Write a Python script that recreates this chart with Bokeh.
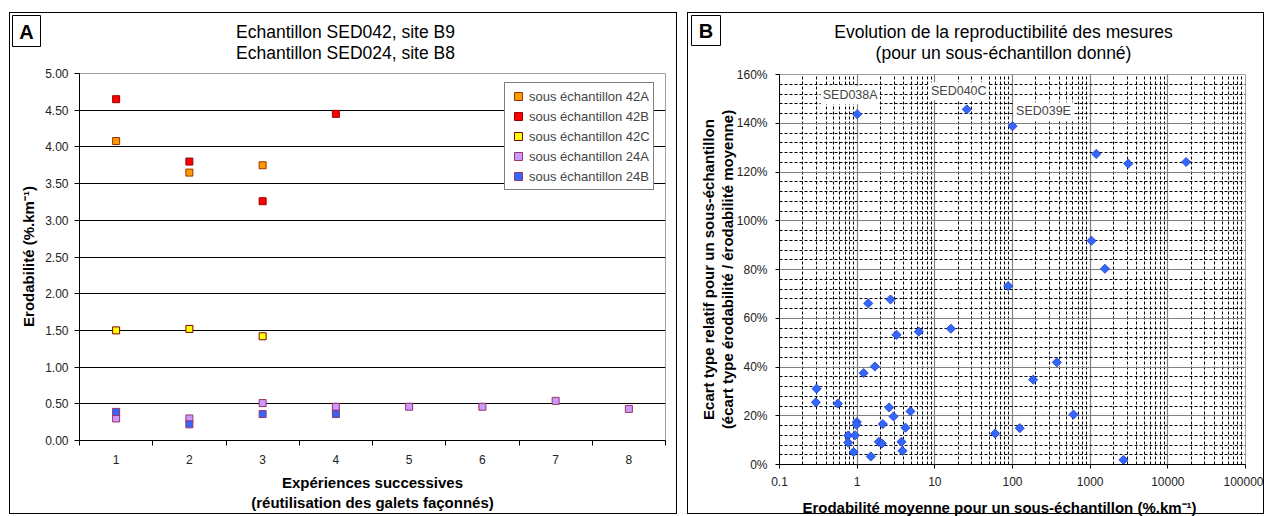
import math
from bokeh.plotting import figure
from bokeh.models import (Range1d, FixedTicker, Label, Legend, LegendItem,
                          NumeralTickFormatter, ColumnDataSource)
from bokeh.embed import file_html
from bokeh.resources import INLINE

FONT = "Liberation Sans"

# ---------------- Panel A data ----------------
experiences = [1, 2, 3, 4, 5, 6, 7, 8]
exp_labels = ["1", "2", "3", "4", "5", "6", "7", "8"]
series_names = ["sous échantillon 42A", "sous échantillon 42B", "sous échantillon 42C",
                "sous échantillon 24A", "sous échantillon 24B"]
sub_42A = [4.08, 3.65, 3.75]
sub_42B = [4.65, 3.80, 3.26, 4.45]
sub_42C = [1.50, 1.52, 1.42]
sub_24A = [0.30, 0.30, 0.51, 0.46, 0.46, 0.46, 0.54, 0.43]
sub_24B = [0.39, 0.22, 0.36, 0.36]
yticks_A = [0.0, 0.5, 1.0, 1.5, 2.0, 2.5, 3.0, 3.5, 4.0, 4.5, 5.0]

# ---------------- Panel B data ----------------
erod_moy = [1.0, 25.8, 100, 1197, 3090, 17200, 1040, 1549, 88, 372, 184.6, 610, 124, 59.8,
            2685, 1.39, 2.69, 3.21, 6.22, 16.1, 1.69, 1.21, 0.30, 0.294, 0.563, 2.58, 2.94,
            4.86, 0.99, 0.98, 2.14, 4.19, 0.766, 0.94, 0.766, 1.90, 2.08, 3.72, 3.83, 0.90, 1.50]
ecart_rel = [143.7, 145.7, 138.8, 127.4, 123.4, 124.1, 91.8, 80.3, 73.2, 41.9, 34.8, 20.5,
             14.9, 12.7, 1.9, 66.1, 67.7, 53.2, 54.5, 55.7, 40.2, 37.5, 31.1, 25.5, 25.0,
             23.4, 19.7, 21.8, 17.4, 16.3, 16.6, 15.1, 11.9, 12.0, 9.0, 9.3, 8.6, 9.3, 5.6,
             5.1, 3.3]
named_points = ["SED038A", "SED040C", "SED039E"]
named_index = [0, 1, 2]
xticks_B = [0.1, 1, 10, 100, 1000, 10000, 100000]
xtick_labels_B = ["0.1", "1", "10", "100", "1000", "10000", "100000"]
yticks_B = [0.0, 0.2, 0.4, 0.6, 0.8, 1.0, 1.2, 1.4, 1.6]

# ---------------- layout geometry (page pixels) ----------------
PAGE_W, PAGE_H = 1271, 516
A_X, A_Y, A_W, A_H = 9, 12, 670, 504          # panel A box (with 1px border)
A_L, A_T, A_R, A_B = 79, 73, 665, 440         # panel A plot frame
B_X, B_Y, B_W, B_H = 687, 12, 579, 504        # panel B box (with 1px border)
B_L, B_T, B_R, B_B = 779, 74, 1245, 464       # panel B plot frame

XA0, XA1, YA0, YA1 = 0.5, 8.5, 0.0, 5.0
XB0, XB1, YB0, YB1 = 0.1, 100000.0, 0.0, 1.6


def panel_figure(X, Y, W, H, L, T, R, B, **kw):
    p = figure(width=W - 2, height=H - 2, output_backend="svg", toolbar_location=None,
               min_border_left=L - X - 1, min_border_right=X + W - 1 - R,
               min_border_top=T - Y - 1, min_border_bottom=Y + H - 1 - B, title=None, **kw)
    p.background_fill_color = "white"
    p.border_fill_color = None
    p.outline_line_color = "#A0A0A0"
    p.styles = {"position": "absolute", "left": f"{X}px", "top": f"{Y}px",
                "border": "1px solid black", "background-color": "white"}
    return p


# ======================= Panel A =======================
pA = panel_figure(A_X, A_Y, A_W, A_H, A_L, A_T, A_R, A_B,
                  x_range=Range1d(XA0, XA1), y_range=Range1d(YA0, YA1))

pA.xgrid.visible = False
pA.ygrid.ticker = FixedTicker(ticks=yticks_A[1:-1])
pA.ygrid.grid_line_color = "black"
pA.ygrid.grid_line_width = 1

pA.xaxis.ticker = FixedTicker(ticks=experiences,
                              minor_ticks=[e - 0.5 for e in experiences] + [experiences[-1] + 0.5])
pA.xaxis.major_label_overrides = {e: l for e, l in zip(experiences, exp_labels)}
pA.xaxis.major_tick_out = 0
pA.xaxis.major_tick_in = 0
pA.xaxis.minor_tick_out = 5
pA.xaxis.minor_tick_in = 0
pA.xaxis.minor_tick_line_color = "black"
pA.xaxis.major_label_standoff = 9
pA.yaxis.ticker = FixedTicker(ticks=yticks_A)
pA.yaxis.formatter = NumeralTickFormatter(format="0.00")
pA.yaxis.major_tick_out = 5
pA.yaxis.major_tick_in = 0
pA.yaxis.minor_tick_line_color = None
pA.yaxis.major_label_standoff = 6
for ax in (pA.xaxis[0], pA.yaxis[0]):
    ax.axis_line_color = "black"
    ax.major_tick_line_color = "black"
    ax.major_label_text_font = FONT
    ax.major_label_text_font_size = "12px"
    ax.major_label_text_color = "#222222"

fills = ["#FF9900", "#FF0000", "#FFFF00", "#CC99FF", "#3366FF"]
edges = ["#993300", "#990000", "#800000", "#993366", "#993366"]
values = [sub_42A, sub_42B, sub_42C, sub_24A, sub_24B]
items = []
for name, ys, fc, lc in zip(series_names, values, fills, edges):
    src = ColumnDataSource(dict(x=experiences[:len(ys)], y=ys))
    r = pA.scatter("x", "y", source=src, marker="square", size=7, fill_color=fc,
                   line_color=lc, line_width=1)
    items.append(LegendItem(label=name, renderers=[r]))

legend = Legend(items=items, location=(504 - A_L, A_B - 190), padding=3, spacing=0,
                glyph_width=20, glyph_height=20, label_height=20, label_standoff=1,
                label_text_font=FONT, label_text_font_size="13px",
                border_line_color="black", border_line_width=1,
                background_fill_color="white", background_fill_alpha=1, margin=0)
pA.add_layout(legend)

# ======================= Panel B =======================
pB = panel_figure(B_X, B_Y, B_W, B_H, B_L, B_T, B_R, B_B, x_axis_type="log",
                  x_range=Range1d(XB0, XB1), y_range=Range1d(YB0, YB1))

minor_x = [k * d for d in xticks_B[:-1] for k in range(2, 10)]
pB.xgrid.ticker = FixedTicker(ticks=xticks_B[1:-1], minor_ticks=minor_x)
pB.xgrid.grid_line_color = "#808080"
pB.xgrid.grid_line_width = 1.2
pB.xgrid.minor_grid_line_color = "black"
pB.xgrid.minor_grid_line_dash = "3 2"
pB.xgrid.minor_grid_line_width = 1

minor_y = [i * 0.04 for i in range(1, 40) if i % 5 != 0]
pB.ygrid.ticker = FixedTicker(ticks=yticks_B[1:-1], minor_ticks=minor_y)
pB.ygrid.grid_line_color = "#808080"
pB.ygrid.grid_line_width = 1.2
pB.ygrid.minor_grid_line_color = "black"
pB.ygrid.minor_grid_line_dash = "3 2"
pB.ygrid.minor_grid_line_width = 1

pB.xaxis.ticker = FixedTicker(ticks=xticks_B)
pB.xaxis.major_label_overrides = {t: l for t, l in zip(xticks_B, xtick_labels_B)}
pB.yaxis.ticker = FixedTicker(ticks=yticks_B)
pB.yaxis.formatter = NumeralTickFormatter(format="0%")
pB.xaxis.major_label_standoff = 8
pB.yaxis.major_label_standoff = 8
for ax in (pB.xaxis[0], pB.yaxis[0]):
    ax.axis_line_color = "black"
    ax.major_tick_line_color = "black"
    ax.major_tick_out = 4
    ax.major_tick_in = 0
    ax.minor_tick_line_color = None
    ax.major_label_text_font = FONT
    ax.major_label_text_font_size = "12px"
    ax.major_label_text_color = "#222222"

srcB = ColumnDataSource(dict(x=erod_moy, y=[v / 100 for v in ecart_rel]))
pB.scatter("x", "y", source=srcB, marker="square", angle=math.pi / 4, size=6.5,
           fill_color="#3366FF", line_color="#1F3FBF", line_width=0.8)

offsets = [(-7, 19), (-8, 18), (31, 15)]
for name, idx, (dx, dy) in zip(named_points, named_index, offsets):
    pB.add_layout(Label(x=erod_moy[idx], y=ecart_rel[idx] / 100, x_offset=dx, y_offset=dy,
                        text=name, text_font=FONT, text_font_size="12.5px",
                        text_align="center", text_baseline="middle",
                        background_fill_color="white", padding=2))

# ============ text layer (titles, axis titles, panel letters) ============
txt = figure(width=PAGE_W, height=PAGE_H, output_backend="svg", toolbar_location=None,
             x_range=Range1d(0, PAGE_W), y_range=Range1d(0, PAGE_H), min_border=0,
             x_axis_location=None, y_axis_location=None, title=None)
txt.background_fill_color = None
txt.border_fill_color = None
txt.outline_line_color = None
txt.xgrid.visible = False
txt.ygrid.visible = False
txt.styles = {"position": "absolute", "left": "0px", "top": "0px", "z-index": "5",
              "pointer-events": "none"}


def add_text(text, px, py, size, bold=False, angle=0.0):
    txt.add_layout(Label(x=px, y=PAGE_H - py, text=text, text_font=FONT,
                         text_font_size=f"{size}px",
                         text_font_style="bold" if bold else "normal",
                         text_align="center", text_baseline="middle", angle=angle,
                         text_color="black"))


def add_box(l, t, r, b):
    txt.quad(left=[l], right=[r], top=[PAGE_H - t], bottom=[PAGE_H - b],
             fill_color="white", line_color="black", line_width=1)


add_box(12, 15, 40, 46)
add_box(691, 15, 720, 45)

add_text("Echantillon SED042, site B9", 345, 31, 17.5)
add_text("Echantillon SED024, site B8", 345, 52, 17.5)
add_text("A", 26, 31, 20, bold=True)
add_text("Erodabilité (%.km⁻¹)", 28, 256, 15, bold=True, angle=math.pi / 2)
add_text("Expériences successives", 372, 482, 15, bold=True)
add_text("(réutilisation des galets façonnés)", 372, 502, 15, bold=True)

add_text("Evolution de la reproductibilité des mesures", 1003, 31, 17.5)
add_text("(pour un sous-échantillon donné)", 1003, 52, 17.5)
add_text("B", 705.5, 30.5, 20, bold=True)
add_text("Ecart type relatif pour un sous-échantillon", 708, 269, 15, bold=True,
         angle=math.pi / 2)
add_text("(écart type érodabilité / érodabilité moyenne)", 727, 269, 15, bold=True,
         angle=math.pi / 2)
add_text("Erodabilité moyenne pour un sous-échantillon (%.km⁻¹)", 999, 507, 15, bold=True)

open("out.html", "w").write(file_html([pA, pB, txt], INLINE))
